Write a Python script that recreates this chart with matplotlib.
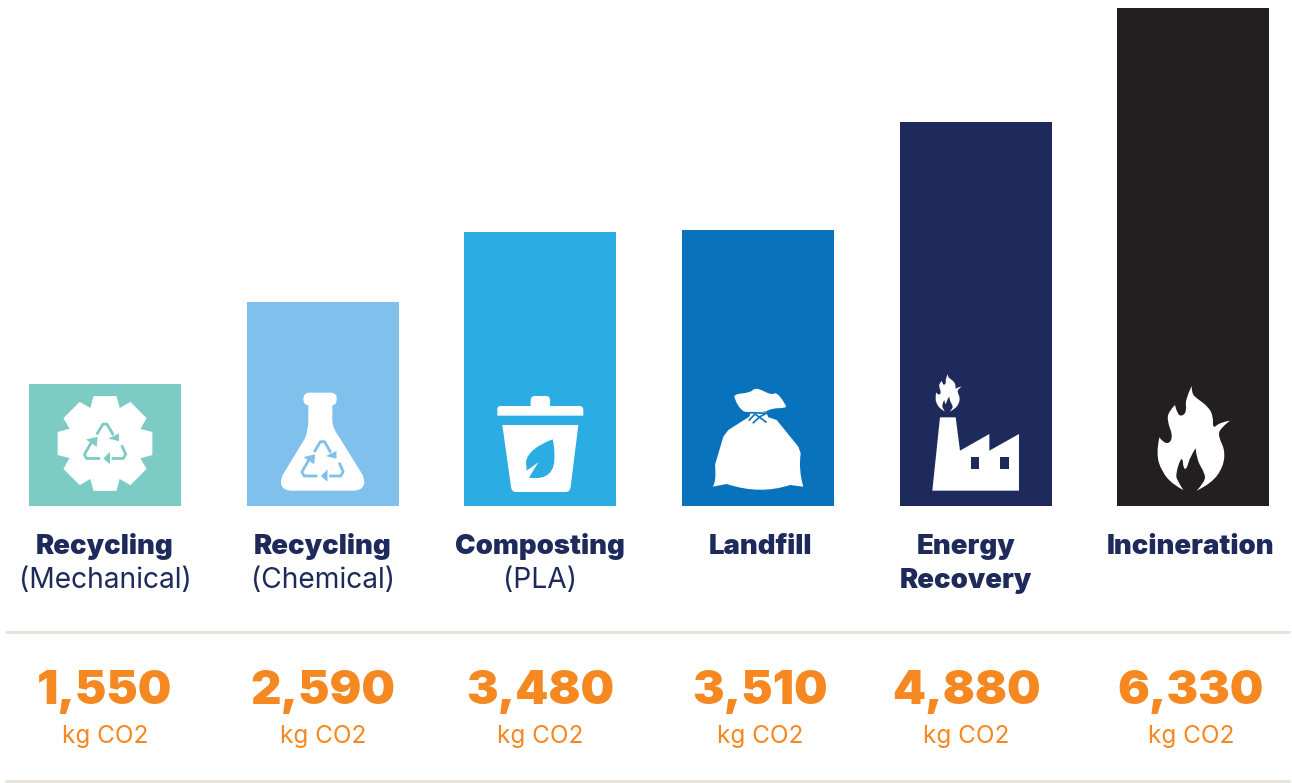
import matplotlib
matplotlib.use('Agg')
import matplotlib.pyplot as plt
from matplotlib.path import Path
from matplotlib.patches import PathPatch
import numpy as np

# データ
titles = ['Recycling', 'Recycling', 'Composting', 'Landfill', 'Energy', 'Incineration']
subtitles = ['(Mechanical)', '(Chemical)', '(PLA)', '', 'Recovery', '']
values = [1550, 2590, 3480, 3510, 4880, 6330]
unit = 'kg CO2'
bar_colors = ['#7CCBC5', '#7FC1EC', '#2BACE3', '#0872BC', '#1D2A5B', '#231F20']
text_x = [105, 323, 540, 760, 966, 1191]

W, H = 1292, 783
NAVY = '#1D2A5B'
ORANGE = '#F58820'
RULE = '#E9E2DA'
BOLD = dict(family='Inter', weight='black')
LIGHT = dict(family='Inter', weight='regular')

fig = plt.figure(figsize=(W / 100, H / 100), dpi=100, facecolor='white')

# 棒グラフ
ax = fig.add_axes([29 / W, 1 - 506 / H, (1269.2 - 29) / W, (506 - 7.6) / H])
bw = 152 / 217.64
ax.bar(range(len(values)), values, width=bw, color=bar_colors)
ax.set_xlim(-bw / 2, 5 + bw / 2)
ax.set_ylim(0, 6330)
ax.axis('off')

# ピクセル座標のレイヤー
ov = fig.add_axes([0, 0, 1, 1])
ov.set_xlim(0, W)
ov.set_ylim(H, 0)
ov.axis('off')
ov.patch.set_alpha(0)


def shape(pts, ox, oy, color='white', s=1 / 3, lw=0.0):
    # pts: (x, y) は直線, ((cx, cy), (x, y)) は2次ベジェ
    verts, codes = [], []
    for p in pts:
        if np.ndim(p) == 2:
            verts += [p[0], p[1]]
            codes += [Path.CURVE3, Path.CURVE3]
        else:
            verts.append(p)
            codes.append(Path.LINETO)
    codes[0] = Path.MOVETO
    verts.append(verts[0])
    codes.append(Path.CLOSEPOLY)
    v = np.array(verts, float) * s + [ox, oy]
    ov.add_patch(PathPatch(Path(v, codes), fc=color, ec=color, lw=lw, joinstyle='round'))


def smooth(pts, sharp=()):
    # sharp以外の点を制御点にして丸める
    n = len(pts)
    out = []
    for i in range(n):
        p = np.array(pts[i], float)
        if i in sharp:
            out.append(tuple(p))
        else:
            prev = np.array(pts[i - 1], float)
            nxt = np.array(pts[(i + 1) % n], float)
            a = prev if (i - 1) % n in sharp else (prev + p) / 2
            b = nxt if (i + 1) % n in sharp else (nxt + p) / 2
            if not out:
                out.append(tuple(a))
            out.append((tuple(p), tuple(b)))
    return out


def recycle(cx, cy, color):
    # 3本の矢印
    lines = [[(-25, -27), (-6, -58), (6, -58), (25, -25)],
             [(50, 5), (62, 32), (55, 45), (20, 45)],
             [(-15, 45), (-55, 45), (-62, 33), (-40, -5)]]
    heads = [[(10, -15), (42, -30), (42, -7)],
             [(-5, 45), (15, 25), (15, 62)],
             [(-57, -12), (-22, -20), (-25, 10)]]
    for ln, hd in zip(lines, heads):
        a = np.array(ln) / 3 + [cx, cy]
        ov.plot(a[:, 0], a[:, 1], color=color, lw=2.0, solid_capstyle='butt', solid_joinstyle='round')
        ov.add_patch(plt.Polygon(np.array(hd) / 3 + [cx, cy], fc=color, ec='none'))


# 歯車
tooth = np.array([(-33, -140), (33, -140), (43, -103)], float)
gear = []
for k in range(8):
    a = np.deg2rad(45 * k)
    rot = np.array([[np.cos(a), -np.sin(a)], [np.sin(a), np.cos(a)]])
    gear += [tuple(q) for q in tooth @ rot.T]
shape(gear, 105, 443.5, lw=1.0)
recycle(105, 443.5, bar_colors[0])

# フラスコ
shape([(865, 68), (935, 68), ((952, 70), (950, 88)), ((950, 104), (937, 106)), (937, 150),
       ((937, 175), (960, 205)), (1028, 315), ((1045, 360), (1000, 362)), (815, 362),
       ((770, 360), (788, 315)), (855, 205), ((865, 180), (865, 150)), (865, 106),
       ((850, 104), (850, 88)), ((850, 70), (865, 68))], 20, 370)
recycle(322.5, 461, bar_colors[1])

# ゴミ箱
shape([(112, 137), (112, 118), ((112, 108), (122, 108)), (212, 108), (212, 90), ((213, 78), (225, 78)),
       (258, 78), ((270, 78), (270, 90)), (270, 108), (358, 108), ((370, 108), (370, 120)), (370, 137)], 460, 370)
shape([(127, 165), (355, 165), (332, 350), ((330, 366), (318, 366)), (167, 366),
       ((155, 366), (153, 350))], 460, 370)
shape([(278, 208), ((205, 235), (198, 275)), (200, 302), (235, 277), (207, 323),
       ((290, 335), (283, 250)), ((283, 225), (278, 208))], 460, 370, color=bar_colors[2])

# ゴミ袋
shape(smooth([(825, 72), (870, 68), (885, 54), (905, 60), (935, 75), (950, 66), (978, 105), (978, 114),
              (935, 115), (915, 127), (868, 127), (845, 124), (822, 85)]), 460, 370)
shape([(868, 140), (920, 140), (950, 150), (1015, 230), (1022, 250), ((1015, 300), (1030, 350)),
       (990, 345), ((900, 375), (800, 342)), (758, 350), ((770, 335), (765, 285)), (790, 200),
       (805, 180)], 460, 370)
shape([(872, 126), (918, 126), (925, 142), (905, 160), (880, 160), (866, 148)], 460, 370)
for seg in [[(868, 150), (885, 132), (918, 156)], [(880, 158), (900, 140), (915, 132)], [(872, 128), (925, 130)]]:
    a = np.array(seg) / 3 + [460, 370]
    ov.plot(a[:, 0], a[:, 1], color=bar_colors[3], lw=1.2)

# 炎
flame = [(905, 78), (885, 120), (890, 150), (880, 168), (862, 165), (855, 135), (835, 155), (832, 185),
         (848, 225), (840, 250), (820, 248), (808, 232), (798, 280), (815, 335), (850, 375), (880, 390),
         (860, 360), (858, 340), (870, 300), (878, 295), (880, 325), (890, 328), (900, 290), (917, 265),
         (920, 300), (945, 340), (945, 365), (920, 392), (965, 370), (1000, 320), (1005, 270), (985, 230),
         (990, 205), (1020, 182), (990, 187), (968, 207), (970, 170), (955, 140), (920, 115), (905, 100)]
tips = (0, 5, 11, 15, 23, 27, 33)
shape(smooth(flame, tips), 890, 360)
fl = np.array(flame, float)
small = (fl - [798, 78]) * 0.36 + [135, 42]
shape(smooth([tuple(q) for q in small], tips), 890, 360)

# 工場
shape([(127, 392), (150, 172), (197, 172), (210, 272), (298, 222), (298, 272), (387, 222), (387, 392)], 890, 360)
for x0 in (242, 330):
    shape([(x0, 292), (x0 + 26, 292), (x0 + 26, 327), (x0, 327)], 890, 360, color=bar_colors[4])

# ラベル
for i, x in enumerate(text_x):
    ov.text(x, 546.5, titles[i], ha='center', va='center', fontsize=19.8, color=NAVY, **BOLD)
    if subtitles[i] == 'Recovery':
        ov.text(x, 581.5, subtitles[i], ha='center', va='center', fontsize=19.8, color=NAVY, **BOLD)
    elif subtitles[i]:
        ov.text(x, 581, subtitles[i], ha='center', va='center', fontsize=20.3, color=NAVY, **LIGHT)
    ov.text(x, 692, f'{values[i]:,}', ha='center', va='center', fontsize=34, color=ORANGE, **BOLD)
    ov.text(x, 737, unit, ha='center', va='center', fontsize=17.5, color=ORANGE, **LIGHT)

# 罫線
for y in (632, 781):
    ov.plot([5, 1290], [y, y], color=RULE, lw=2.2, solid_capstyle='butt')

fig.savefig('out.png', dpi=100)
